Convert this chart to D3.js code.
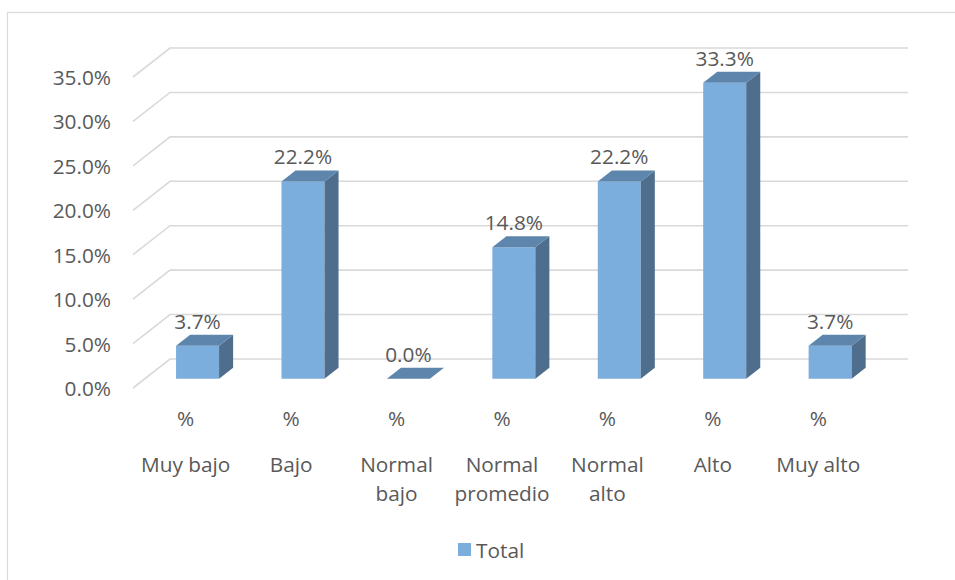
<!DOCTYPE html>
<html><head><meta charset="utf-8">
<script src="https://cdn.jsdelivr.net/npm/d3@7"></script>
<style>body{margin:0;background:#fff}svg{display:block}text{font-family:"Open Sans",sans-serif;fill:#595959}</style>
</head><body><svg id="c" width="955" height="580"></svg>
<script>
const categories = ["Muy bajo","Bajo","Normal bajo","Normal promedio","Normal alto","Alto","Muy alto"];
const subLabel = ["%","%","%","%","%","%","%"];
const values = [0.037,0.222,0.0,0.148,0.222,0.333,0.037];
const yTicks = [0,0.05,0.10,0.15,0.20,0.25,0.30,0.35];
const seriesName = "Total";

const svg = d3.select("#c");
const fs = 20.8;
// chart border
svg.append("rect").attr("x",7.5).attr("y",12.5).attr("width",960).attr("height",600)
  .attr("fill","none").attr("stroke","#d9d9d9").attr("stroke-width",1.2);

const x = d3.scaleBand().domain(categories).range([133,871]).paddingInner(0).paddingOuter(0);
const y = d3.scaleLinear().domain([0,0.35]).range([388,77]);
const DX = 37, DY = -29;
const P = (px,v,d)=>[px+DX*d, y(v)+DY*d];

// gridlines
const g = svg.append("g");
yTicks.forEach(t=>{
  const a=P(x.range()[0],t,0), b=P(x.range()[0],t,1), c=P(x.range()[1],t,1);
  g.append("path").attr("d",d3.line()([a,b,c])).attr("fill","none")
   .attr("stroke","#d9d9d9").attr("stroke-width",1.6);
});
// y tick labels
yTicks.forEach(t=>{
  svg.append("text").attr("x",111).attr("y",y(t)).attr("text-anchor","end")
    .attr("dominant-baseline","central").attr("font-size",fs).text(d3.format(".1%")(t));
});

// bars
const bw = 43, d0 = 0.32, d1 = 0.70;
const cFront="#7caedd", cTop="#5e86ad", cSide="#4f6e8e";
const bars = svg.append("g");
categories.forEach((c,i)=>{
  const v = values[i];
  const cx = x(c)+x.bandwidth()/2;
  const xl = cx-bw/2, xr = cx+bw/2;
  const poly=(pts,col)=>bars.append("polygon").attr("points",pts.map(p=>p.join(",")).join(" ")).attr("fill",col);
  if (v>0){
    poly([P(xl,0,d0),P(xr,0,d0),P(xr,v,d0),P(xl,v,d0)],cFront);
    poly([P(xr,0,d0),P(xr,0,d1),P(xr,v,d1),P(xr,v,d0)],cSide);
  }
  poly([P(xl,v,d0),P(xr,v,d0),P(xr,v,d1),P(xl,v,d1)],cTop);
  const lp = P(cx,v,d1);
  svg.append("text").attr("x",cx+DX*d0).attr("y",lp[1]-14).attr("text-anchor","middle")
    .attr("dominant-baseline","central").attr("font-size",fs).text(d3.format(".1%")(v));
});

// category labels
categories.forEach((c,i)=>{
  const cx = x(c)+x.bandwidth()/2;
  svg.append("text").attr("x",cx).attr("y",418).attr("text-anchor","middle")
    .attr("dominant-baseline","central").attr("font-size",fs).text(subLabel[i]);
  const t = svg.append("text").attr("x",cx).attr("text-anchor","middle")
    .attr("dominant-baseline","central").attr("font-size",fs);
  // wrap
  const words = c.split(" "); let lines=[], cur="";
  const meas = svg.append("text").attr("font-size",fs);
  words.forEach(w=>{
    const test = cur?cur+" "+w:w;
    meas.text(test);
    if (meas.node().getComputedTextLength()>100 && cur){ lines.push(cur); cur=w; } else cur=test;
  });
  lines.push(cur); meas.remove();
  lines.forEach((l,j)=>t.append("tspan").attr("x",cx).attr("y",464+j*29).text(l));
});

// legend
svg.append("rect").attr("x",458).attr("y",543).attr("width",13).attr("height",13).attr("fill",cFront);
svg.append("text").attr("x",476).attr("y",549.5).attr("dominant-baseline","central")
  .attr("font-size",fs).text(seriesName);
</script></body></html>
